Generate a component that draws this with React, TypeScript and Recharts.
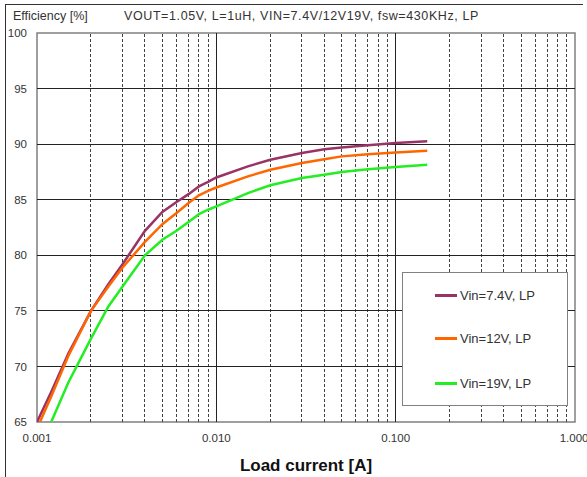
import { Legend, Line, LineChart, ReferenceArea, ReferenceLine, XAxis, YAxis } from 'recharts';

const loadCurrent = [
  0.001, 0.0012, 0.0015, 0.002, 0.0025, 0.003, 0.004, 0.005, 0.006, 0.007, 0.008, 0.009,
  0.01, 0.015, 0.02, 0.03, 0.04, 0.05, 0.07, 0.1, 0.15,
];
const effVin7v4 = [
  65.0, 67.7, 71.2, 75.0, 77.4, 79.2, 82.2, 83.9, 84.8, 85.5, 86.2, 86.6,
  87.0, 88.0, 88.6, 89.2, 89.55, 89.7, 89.9, 90.1, 90.25,
];
const effVin12 = [
  64.4, 67.3, 71.0, 75.0, 77.2, 78.9, 81.2, 82.8, 83.8, 84.7, 85.4, 85.8,
  86.1, 87.1, 87.7, 88.3, 88.65, 88.9, 89.1, 89.25, 89.4,
];
const effVin19 = [
  null, 65.0, 68.6, 72.5, 75.4, 77.2, 80.0, 81.4, 82.2, 83.0, 83.7, 84.1,
  84.4, 85.6, 86.3, 86.95, 87.25, 87.5, 87.75, 87.95, 88.15,
];
const seriesNames = ['Vin=7.4V, LP', 'Vin=12V, LP', 'Vin=19V, LP'];

const xTicks = [0.001, 0.01, 0.1, 1];
const yTicks = [65, 70, 75, 80, 85, 90, 95, 100];
const majorX = [0.01, 0.1];
const minorX = [2, 3, 4, 5, 6, 7, 8, 9].flatMap((m) => [m * 0.001, m * 0.01, m * 0.1]);
const majorY = [70, 75, 80, 85, 90, 95];

const data = loadCurrent.map((current, i) => ({
  current,
  v74: effVin7v4[i],
  v12: effVin12[i],
  v19: effVin19[i],
}));

const FONT = '"Liberation Sans", Arial, sans-serif';

const LegendBox = ({ payload }: any) => {
  const items = [...(payload || [])].sort(
    (a: any, b: any) => seriesNames.indexOf(a.value) - seriesNames.indexOf(b.value)
  );
  return (
    <div
      style={{
        width: 164,
        height: 132,
        border: '1.5px solid #808080',
        background: '#fff',
        position: 'relative',
        fontFamily: FONT,
      }}
    >
      {items.map((entry: any, i: number) => (
        <div
          key={entry.value}
          style={{
            position: 'absolute',
            left: 32,
            top: [22, 65, 110][i] - 9,
            height: 18,
            display: 'flex',
            alignItems: 'center',
            fontSize: 13,
            color: '#333',
            whiteSpace: 'nowrap',
          }}
        >
          <span style={{ width: 22, height: 3, background: entry.color, marginRight: 3 }} />
          {entry.value}
        </div>
      ))}
    </div>
  );
};

export default function App() {
  return (
    <div style={{ position: 'absolute', left: 0, top: 0, width: 587, height: 477, fontFamily: FONT }}>
      <div
        style={{
          position: 'absolute',
          left: 5,
          top: 4,
          width: 577,
          height: 480,
          borderTop: '1px solid #333',
          borderLeft: '1px solid #333',
        }}
      />
      <div style={{ position: 'absolute', left: 13, top: 9, fontSize: 12.5, color: '#333' }}>Efficiency [%]</div>
      <div
        style={{
          position: 'absolute',
          left: 124,
          top: 9,
          fontSize: 12.5,
          letterSpacing: 0.6,
          color: '#333',
          whiteSpace: 'nowrap',
        }}
      >
        VOUT=1.05V, L=1uH, VIN=7.4V/12V19V, fsw=430KHz, LP
      </div>
      <LineChart width={587} height={477} data={data} margin={{ top: 33, right: 12, left: 7, bottom: 0 }}>
        <XAxis
          dataKey="current"
          type="number"
          scale="log"
          domain={[0.001, 1]}
          ticks={xTicks}
          allowDataOverflow
          tickFormatter={(v) => v.toFixed(3)}
          tickLine={false}
          axisLine={false}
          tickSize={0}
          tickMargin={12}
          height={55}
          tick={{ fontSize: 11.5, fill: '#333', fontFamily: FONT }}
          label={{
            value: 'Load current [A]',
            position: 'insideBottom',
            offset: 6,
            style: { fontSize: 17, fontWeight: 'bold', fill: '#111', fontFamily: FONT },
          }}
        />
        <YAxis
          type="number"
          domain={[65, 100]}
          ticks={yTicks}
          allowDataOverflow
          width={30}
          tickLine={false}
          axisLine={false}
          tickSize={0}
          tickMargin={10}
          tick={{ fontSize: 11.5, fill: '#333', fontFamily: FONT }}
        />
        {minorX.map((x) => (
          <ReferenceLine key={`mx${x}`} x={x} stroke="#444" strokeDasharray="3 2" shapeRendering="crispEdges" />
        ))}
        {majorX.map((x) => (
          <ReferenceLine key={`Mx${x}`} x={x} stroke="#222" shapeRendering="crispEdges" />
        ))}
        {majorY.map((y) => (
          <ReferenceLine key={`My${y}`} y={y} stroke="#222" shapeRendering="crispEdges" />
        ))}
        <ReferenceArea
          x1={0.001}
          x2={1}
          y1={65}
          y2={100}
          fill="none"
          stroke="#808080"
          strokeWidth={1.5}
          ifOverflow="visible"
        />
        <Line
          dataKey="v74"
          name={seriesNames[0]}
          stroke="#993366"
          strokeWidth={2.5}
          dot={false}
          isAnimationActive={false}
        />
        <Line
          dataKey="v12"
          name={seriesNames[1]}
          stroke="#ff6600"
          strokeWidth={2.5}
          dot={false}
          isAnimationActive={false}
        />
        <Line
          dataKey="v19"
          name={seriesNames[2]}
          stroke="#22ee22"
          strokeWidth={2.5}
          dot={false}
          isAnimationActive={false}
        />
        <Legend
          layout="vertical"
          align="center"
          verticalAlign="middle"
          content={<LegendBox />}
          wrapperStyle={{ position: 'absolute', left: 402, top: 272, width: 166, height: 134 }}
        />
      </LineChart>
    </div>
  );
}
